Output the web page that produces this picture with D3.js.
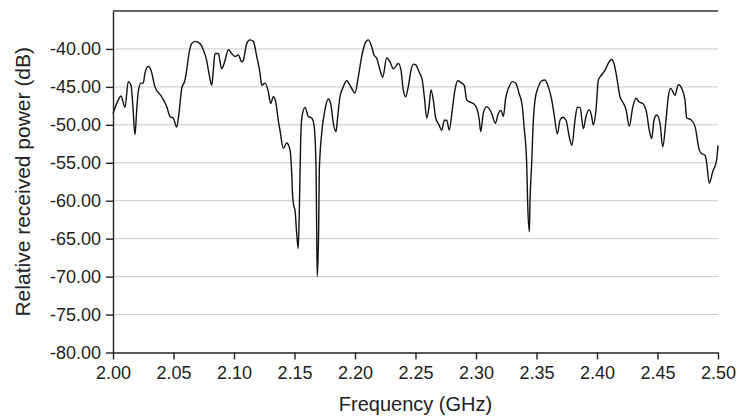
<!DOCTYPE html>
<html>
<head>
  <meta charset="utf-8">
  <title>Relative received power</title>
  <style>
    body { margin: 0; background: #fff; }
    text { font-family: "Liberation Sans", Arial, sans-serif; fill: #222; }
    .grid line { stroke: #c8c8c8; stroke-width: 1; }
    .axis path, .axis line { stroke: #222; stroke-width: 1.4; }
    .axis text { font-size: 18px; }
    .title { font-size: 20px; }
    .ytitle { font-size: 21px; }
  </style>
</head>
<body>
  <svg width="738" height="418"></svg>
  <script src="https://d3js.org/d3.v7.min.js"></script>
  <script>

  // frequency (GHz) and relative received power (dB)
  var freq = [
    2.0000, 2.0044, 2.0066, 2.0099, 2.0126, 2.0149, 2.0163, 2.0182, 2.0196, 2.0209,
    2.0231, 2.0250, 2.0264, 2.0292, 2.0314, 2.0347, 2.0402, 2.0444, 2.0471, 2.0498,
    2.0526, 2.0545, 2.0568, 2.0595, 2.0609, 2.0628, 2.0650, 2.0678, 2.0719, 2.0746,
    2.0774, 2.0793, 2.0816, 2.0829, 2.0843, 2.0870, 2.0898, 2.0926, 2.0953, 2.0981,
    2.1008, 2.1036, 2.1064, 2.1077, 2.1105, 2.1132, 2.1160, 2.1188, 2.1215, 2.1229,
    2.1256, 2.1283, 2.1303, 2.1325, 2.1345, 2.1366, 2.1380, 2.1407, 2.1436, 2.1463,
    2.1477, 2.1485, 2.1496, 2.1504, 2.1518, 2.1531, 2.1540, 2.1551, 2.1562, 2.1587,
    2.1614, 2.1642, 2.1661, 2.1678, 2.1683, 2.1688, 2.1700, 2.1705, 2.1725, 2.1752,
    2.1779, 2.1799, 2.1821, 2.1843, 2.1854, 2.1876, 2.1903, 2.1931, 2.1959, 2.2000,
    2.2027, 2.2055, 2.2083, 2.2110, 2.2138, 2.2157, 2.2179, 2.2207, 2.2229, 2.2262,
    2.2289, 2.2317, 2.2345, 2.2358, 2.2380, 2.2399, 2.2419, 2.2440, 2.2463, 2.2482,
    2.2502, 2.2529, 2.2556, 2.2573, 2.2593, 2.2612, 2.2628, 2.2647, 2.2667, 2.2694,
    2.2717, 2.2738, 2.2758, 2.2779, 2.2804, 2.2826, 2.2849, 2.2882, 2.2903, 2.2923,
    2.2950, 2.2978, 2.3006, 2.3025, 2.3039, 2.3060, 2.3088, 2.3130, 2.3160, 2.3184,
    2.3207, 2.3226, 2.3245, 2.3273, 2.3300, 2.3328, 2.3355, 2.3383, 2.3397, 2.3419,
    2.3427, 2.3441, 2.3446, 2.3460, 2.3474, 2.3488, 2.3515, 2.3543, 2.3570, 2.3598,
    2.3626, 2.3647, 2.3672, 2.3694, 2.3717, 2.3744, 2.3771, 2.3793, 2.3818, 2.3837,
    2.3860, 2.3887, 2.3909, 2.3936, 2.3956, 2.3969, 2.3992, 2.4011, 2.4039, 2.4066,
    2.4093, 2.4121, 2.4140, 2.4163, 2.4190, 2.4212, 2.4240, 2.4267, 2.4295, 2.4322,
    2.4350, 2.4378, 2.4411, 2.4432, 2.4452, 2.4471, 2.4493, 2.4521, 2.4543, 2.4570,
    2.4589, 2.4609, 2.4645, 2.4672, 2.4700, 2.4727, 2.4741, 2.4774, 2.4810, 2.4845,
    2.4865, 2.4893, 2.4907, 2.4928, 2.4956, 2.4989, 2.5000
  ];

  var power = [
    -48.5, -46.7, -46.2, -47.7, -44.3, -44.8, -47.2, -51.3, -48.0, -45.6,
    -44.5, -44.5, -43.2, -42.3, -42.8, -45.0, -46.3, -47.6, -48.9, -49.1,
    -50.3, -48.5, -45.2, -44.1, -42.8, -40.6, -39.3, -39.0, -39.3, -40.1,
    -41.5, -43.2, -44.8, -42.8, -40.6, -40.6, -42.6, -41.5, -40.1, -40.6,
    -41.0, -40.8, -41.7, -41.5, -39.3, -38.8, -39.0, -41.0, -43.2, -44.8,
    -44.5, -45.6, -47.2, -46.3, -47.0, -49.4, -50.7, -53.1, -52.4, -53.3,
    -56.4, -59.5, -60.8, -61.2, -64.3, -66.3, -61.2, -52.0, -48.9, -47.7,
    -48.9, -49.1, -50.0, -55.5, -63.4, -70.0, -63.4, -56.0, -51.1, -48.0,
    -46.6, -47.2, -49.8, -50.9, -49.4, -46.3, -45.0, -44.2, -44.8, -45.8,
    -43.7, -41.0, -39.3, -38.8, -39.7, -40.8, -41.2, -42.8, -43.7, -41.2,
    -41.7, -42.6, -42.1, -41.9, -42.8, -45.4, -46.3, -45.0, -42.8, -42.0,
    -42.1, -43.0, -44.1, -46.3, -49.1, -47.6, -45.4, -46.7, -49.1, -50.0,
    -50.7, -49.4, -49.4, -50.7, -48.0, -45.4, -44.2, -44.5, -44.8, -46.7,
    -47.0, -47.2, -47.8, -49.1, -50.9, -48.5, -47.6, -48.5, -49.8, -48.5,
    -48.1, -48.9, -46.5, -45.0, -44.3, -44.5, -45.8, -47.6, -50.2, -55.1,
    -60.3, -64.1, -60.3, -55.1, -49.4, -46.7, -45.0, -44.2, -44.1, -45.0,
    -46.7, -48.8, -51.2, -49.4, -49.0, -49.4, -51.6, -52.7, -49.4, -47.7,
    -47.7, -50.5, -48.9, -48.0, -48.9, -50.0, -48.0, -44.1, -43.4, -42.8,
    -41.9, -41.4, -41.9, -43.7, -46.3, -47.0, -48.0, -50.2, -47.7, -46.5,
    -47.0, -47.2, -48.5, -50.7, -51.8, -49.4, -48.7, -49.8, -52.9, -49.4,
    -46.3, -45.2, -46.1, -44.7, -45.2, -46.7, -49.1, -49.3, -50.2, -53.3,
    -53.8, -54.0, -55.1, -57.7, -56.2, -54.6, -52.7
  ];

  var xTicks = [2.00, 2.05, 2.10, 2.15, 2.20, 2.25, 2.30, 2.35, 2.40, 2.45, 2.50];
  var yTicks = [-80, -75, -70, -65, -60, -55, -50, -45, -40];

  var svg = d3.select("svg"),
      margin = {top: 11, right: 20, bottom: 65.5, left: 113},
      width = +svg.attr("width") - margin.left - margin.right,
      height = +svg.attr("height") - margin.top - margin.bottom;

  // plain hyphen for negatives, like the original
  var fmt = d3.formatLocale({
    decimal: ".", thousands: ",", grouping: [3], currency: ["", ""], minus: "-"
  }).format(".2f");

  var g = svg.append("g")
      .attr("transform", "translate(" + margin.left + "," + margin.top + ")");

  var x = d3.scaleLinear().domain([2.0, 2.5]).range([0, width]);
  var y = d3.scaleLinear().domain([-80, -35]).range([height, 0]);

  // horizontal grid
  g.append("g")
      .attr("class", "grid")
      .selectAll("line")
      .data(yTicks.filter(function(d) { return d > -80; }))
      .enter().append("line")
      .attr("x1", 0)
      .attr("x2", width)
      .attr("y1", function(d) { return y(d); })
      .attr("y2", function(d) { return y(d); });

  // top border
  g.append("line")
      .attr("x1", 0).attr("x2", width)
      .attr("y1", 0).attr("y2", 0)
      .attr("stroke", "#333")
      .attr("stroke-width", 1.4);

  var data = freq.map(function(f, i) { return [f, power[i]]; });

  var line = d3.line()
      .x(function(d) { return x(d[0]); })
      .y(function(d) { return y(d[1]); })
      .curve(d3.curveMonotoneX);

  g.append("path")
      .datum(data)
      .attr("fill", "none")
      .attr("stroke", "#111")
      .attr("stroke-width", 1.4)
      .attr("d", line);

  g.append("g")
      .attr("class", "axis")
      .attr("transform", "translate(0," + height + ")")
      .call(d3.axisBottom(x)
          .tickValues(xTicks)
          .tickFormat(fmt)
          .tickSize(7)
          .tickSizeOuter(0)
          .tickPadding(7));

  g.append("g")
      .attr("class", "axis")
      .call(d3.axisLeft(y)
          .tickValues(yTicks)
          .tickFormat(fmt)
          .tickSize(7)
          .tickSizeOuter(0)
          .tickPadding(5));

  svg.append("text")
      .attr("class", "title")
      .attr("x", margin.left + width / 2)
      .attr("y", 411)
      .attr("text-anchor", "middle")
      .text("Frequency (GHz)");

  svg.append("text")
      .attr("class", "ytitle")
      .attr("transform", "translate(30," + (margin.top + height / 2) + ") rotate(-90)")
      .attr("text-anchor", "middle")
      .text("Relative received power (dB)");

  </script>
</body>
</html>
